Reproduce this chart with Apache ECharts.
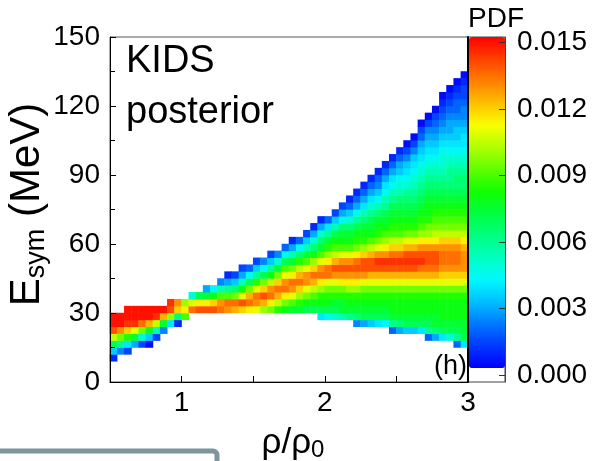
<!DOCTYPE html>
<html><head><meta charset="utf-8">
<script src="https://cdn.jsdelivr.net/npm/echarts@6/dist/echarts.min.js"></script>
<style>html,body{margin:0;padding:0;background:#fff}#c{width:592px;height:461px}</style>
</head><body><div id="c"></div>
<script>
// ---- data ----
const rhoCenters = [0.525,0.575,0.625,0.675,0.725,0.775,0.825,0.875,0.925,0.975,1.025,1.075,1.125,1.175,1.225,1.275,1.325,1.375,1.425,1.475,1.525,1.575,1.625,1.675,1.725,1.775,1.825,1.875,1.925,1.975,2.025,2.075,2.125,2.175,2.225,2.275,2.325,2.375,2.425,2.475,2.525,2.575,2.625,2.675,2.725,2.775,2.825,2.875,2.925,2.975];
const esymCenters = [1.5,4.5,7.5,10.5,13.5,16.5,19.5,22.5,25.5,28.5,31.5,34.5,37.5,40.5,43.5,46.5,49.5,52.5,55.5,58.5,61.5,64.5,67.5,70.5,73.5,76.5,79.5,82.5,85.5,88.5,91.5,94.5,97.5,100.5,103.5,106.5,109.5,112.5,115.5,118.5,121.5,124.5,127.5,130.5,133.5,136.5,139.5,142.5,145.5,148.5];
const xTickLabels = ['1','2','3'];
const yTickValues = [0,30,60,90,120,150];
const pdfTicks = [0,0.003,0.006,0.009,0.012,0.015];
// PDF per column: [first E-bin index, one base-36 digit per bin, in units of pdfUnit]
const pdfUnit = 0.0005;
const pdfColumns = [
 [3,"27elsuu"],[4,"5cjquu"],[4,"38hotuu"],[5,"6fmtuu"],[5,"3ajruu"],
 [5,"17gpuu"],[6,"3bltu"],[7,"5fpu"],[8,"8kst"],[8,"2doq"],
 [9,"ink"],[10,"rma"],[10,"sne"],[10,"snf6"],[10,"sog9"],
 [10,"rqib5"],[10,"qric62"],[10,"prjd73"],[10,"osmgb63"],[10,"nrpje94"],
 [10,"mqrmhc73"],[10,"kpsoje95"],[10,"jnrqlgc73"],[10,"hlprojfa5"],[10,"gjnrqmie94"],
 [10,"fimqrnjfb62"],[10,"fhkorplhd94"],[10,"egjmqqmifb73"],[10,"egilprokgda62"],[9,"8eghknrqmifda62"],
 [9,"9eghjmrrnkhfc84"],[9,"aefhjmqspligeb73"],[9,"bffhjnqsqmigfd963"],[9,"cfghknqsqmigfda742"],[8,"5dfghknqsrnjhgec9642"],
 [8,"6efghjmqssokhgfdb8642"],[8,"7efghjmpsspligfeca8642"],[8,"8efghjmpstqmjhgfdb97542"],[8,"9efghjmpstqnkigfecb98642"],[7,"4cfgghjmpstrolihgfecb98642"],
 [7,"6dfgghjmpstrolihgfedba97642"],[7,"7efgghjmpstspmjhgfedca987531"],[7,"7efgghjmpstspmjhgfedcba987531"],[7,"8efgghjmprtsqnkihgfedcba9876431"],[6,"4cefgghjmprssqnkjhggfedcba9876531"],
 [6,"6dffgghjmprssqnljihgfedcba98765431"],[6,"8efggghjmoqrrqoljihgfedcbaa987654321"],[6,"aefggghjmoqrrqoljihgfedccba9876654321"],[5,"4cefggghjmoqrrqoljihgfeddcba98776544321"],[5,"8effggghjmoqqqpnljihgfeddcba988765543321"]
];
const colorStops = ['#0000f8','#0038ff','#0078ff','#00c0ff','#00f8ff','#00ffc0','#00ff80','#00ff40','#10ff00','#60ff00','#b0ff00','#f8ff00','#ffc000','#ff8000','#ff4000','#ff0000'];

// ---- build ----
const heatData = [];
pdfColumns.forEach(function (col, c) {
  const start = col[0], s = col[1];
  for (let k = 0; k < s.length; k++) {
    heatData.push([c, start + k, parseInt(s[k], 36) * pdfUnit]);
  }
});

const FONT = '"Liberation Sans", Arial, sans-serif';
const chart = echarts.init(document.getElementById('c'), null, {renderer: 'canvas'});
chart.setOption({
  animation: false,
  textStyle: {fontFamily: FONT},
  grid: [
    {left: 110, top: 37, width: 358, height: 345, show: true, borderColor: '#555', borderWidth: 1, backgroundColor: 'transparent', containLabel: false, outerBoundsMode: 'none'},
    {left: 468, top: 37, width: 37, height: 345, show: true, borderColor: '#444', borderWidth: 1, backgroundColor: 'transparent', containLabel: false, outerBoundsMode: 'none'}
  ],
  xAxis: [
    {type: 'category', gridIndex: 0, data: rhoCenters.map(String), show: false},
    {type: 'value', gridIndex: 0, min: 0.5, max: 3, interval: 0.5, position: 'bottom', z: 5,
      axisLine: {show: true, onZero: false, lineStyle: {color: '#000', width: 1}},
      axisTick: {show: true, inside: true, length: 6, lineStyle: {color: '#000'}},
      axisLabel: {fontSize: 28, color: '#000', margin: 7, fontFamily: FONT,
        formatter: function (v) { return xTickLabels.indexOf(String(v)) >= 0 ? String(v) : ''; }},
      splitLine: {show: false},
      name: '{r|ρ/ρ}{z|0}', nameLocation: 'middle', nameGap: 42, nameMoveOverlap: false,
      nameTextStyle: {padding: [0, 0, 0, 8], rich: {
        r: {fontSize: 35, lineHeight: 38, fontFamily: FONT, color: '#000'},
        z: {fontSize: 24, lineHeight: 2, verticalAlign: 'bottom', fontFamily: FONT, color: '#000'}
      }}
    },
    {type: 'value', gridIndex: 1, min: 0, max: 1, show: false}
  ],
  yAxis: [
    {type: 'category', gridIndex: 0, data: esymCenters.map(String), show: false},
    {type: 'value', gridIndex: 0, min: 0, max: 150, interval: 30, position: 'left', z: 5,
      axisLine: {show: true, onZero: false, lineStyle: {color: '#000', width: 1}},
      axisTick: {show: true, inside: true, length: 6, lineStyle: {color: '#000'}},
      minorTick: {show: true, splitNumber: 2, length: 5, lineStyle: {color: '#000'}},
      axisLabel: {fontSize: 28, color: '#000', margin: 10, fontFamily: FONT,
        formatter: function (v) { return yTickValues.indexOf(v) >= 0 ? String(v) : ''; }},
      splitLine: {show: false}, minorSplitLine: {show: false},
      name: '{e|E}{s|sym}{m| (MeV)}', nameLocation: 'middle', nameGap: 60, nameRotate: 90, nameMoveOverlap: false,
      nameTextStyle: {padding: [0, 0, 0, 10], rich: {
        e: {fontSize: 42, lineHeight: 46, fontFamily: FONT, color: '#000'},
        s: {fontSize: 27, lineHeight: 10, verticalAlign: 'bottom', fontFamily: FONT, color: '#000'},
        m: {fontSize: 42, lineHeight: 46, fontFamily: FONT, color: '#000'}
      }}
    },
    {type: 'value', gridIndex: 1, min: -0.000316, max: 0.01525, position: 'right', z: 5,
      axisLine: {show: true, onZero: false, lineStyle: {color: '#444', width: 1}},
      axisTick: {show: true, inside: true, length: 6, customValues: pdfTicks, lineStyle: {color: '#333'}},
      axisLabel: {fontSize: 28, color: '#000', margin: 12, fontFamily: FONT, customValues: pdfTicks,
        formatter: function (v) { return v.toFixed(3); }},
      splitLine: {show: false}
    },
    {type: 'value', gridIndex: 1, min: 0, max: 1, position: 'left', z: 6,
      axisLine: {show: true, onZero: false, lineStyle: {color: '#000', width: 2}},
      axisTick: {show: false}, axisLabel: {show: false}, splitLine: {show: false}
    }
  ],
  visualMap: {
    type: 'continuous', min: 0.0003, max: 0.01525, dimension: 2, seriesIndex: 0,
    left: 469, top: 37, itemWidth: 36, itemHeight: 331, padding: 0,
    calculable: false, hoverLink: false, orient: 'vertical',
    inRange: {color: colorStops}
  },
  series: [{
    type: 'heatmap', xAxisIndex: 0, yAxisIndex: 0, data: heatData,
    progressive: 0, emphasis: {disabled: true}, itemStyle: {borderWidth: 0}
  }],
  graphic: [
    {type: 'text', x: 126, y: 62, z: 10, style: {text: 'KIDS', fontSize: 38, fontFamily: FONT, fill: '#000', verticalAlign: 'middle'}},
    {type: 'text', x: 126, y: 113, z: 10, style: {text: 'posterior', fontSize: 38, fontFamily: FONT, fill: '#000', verticalAlign: 'middle'}},
    {type: 'text', x: 467, y: 367, z: 10, style: {text: '(h)', fontSize: 27, fontFamily: FONT, fill: '#000', align: 'right', verticalAlign: 'middle'}},
    {type: 'text', x: 496, y: 19, z: 10, style: {text: 'PDF', fontSize: 28, fontFamily: FONT, fill: '#000', align: 'center', verticalAlign: 'middle'}},
    {type: 'rect', z: 10, shape: {x: -10, y: 451, width: 227, height: 40, r: 4}, style: {fill: '#fff', stroke: '#7f949e', lineWidth: 5}}
  ]
});
</script></body></html>
